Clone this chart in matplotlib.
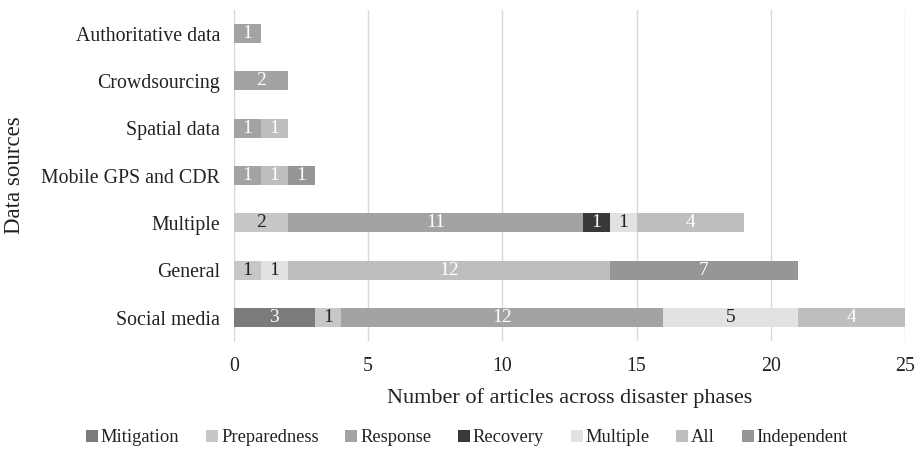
import matplotlib.pyplot as plt
import numpy as np

plt.rcParams['font.family'] = ['Liberation Serif', 'DejaVu Serif']

sources = ['Social media', 'General', 'Multiple', 'Mobile GPS and CDR',
           'Spatial data', 'Crowdsourcing', 'Authoritative data']
phases = ['Mitigation', 'Preparedness', 'Response', 'Recovery',
          'Multiple', 'All', 'Independent']

# articles per phase, one list per phase, ordered like `sources`
mitigation = [3, 0, 0, 0, 0, 0, 0]
preparedness = [1, 1, 2, 0, 0, 0, 0]
response = [12, 0, 11, 1, 1, 2, 1]
recovery = [0, 0, 1, 0, 0, 0, 0]
multiple = [5, 1, 1, 0, 0, 0, 0]
all_phases = [4, 12, 4, 1, 1, 0, 0]
independent = [0, 7, 0, 1, 0, 0, 0]

series = [mitigation, preparedness, response, recovery,
          multiple, all_phases, independent]
colors = ['#7b7b7b', '#c7c7c7', '#a3a3a3', '#383838',
          '#e2e2e2', '#bebebe', '#969696']
text_colors = ['white', '#222222', 'white', 'white',
               '#222222', 'white', 'white']

fig, ax = plt.subplots(figsize=(9.23, 4.49), dpi=100)
fig.subplots_adjust(left=0.2535, right=0.9805, top=0.978, bottom=0.24)

y = np.arange(len(sources))
left = np.zeros(len(sources))
for vals, name, col, tcol in zip(series, phases, colors, text_colors):
    vals = np.array(vals, dtype=float)
    bars = ax.barh(y, vals, left=left, height=0.4, color=col, label=name,
                   edgecolor='none', zorder=3)
    for b, v in zip(bars, vals):
        if v > 0:
            ax.text(b.get_x() + b.get_width() / 2, b.get_y() + b.get_height() / 2,
                    '%d' % v, ha='center', va='center', color=tcol,
                    fontsize=14, zorder=4)
    left += vals

ax.set_xlim(0, 25)
ax.set_ylim(-0.5, len(sources) - 0.5)
ax.set_xticks(range(0, 26, 5))
ax.set_yticks(y)
ax.set_yticklabels(sources)
ax.tick_params(axis='both', length=0, labelsize=14.3, colors='#222222')
ax.tick_params(axis='x', pad=11)
ax.tick_params(axis='y', pad=10)
ax.grid(axis='x', color='#d9d9d9', linewidth=1, zorder=0)
for s in ['top', 'right', 'bottom']:
    ax.spines[s].set_visible(False)
ax.spines['left'].set_color('#d9d9d9')
ax.spines['left'].set_zorder(2)

ax.set_xlabel('Number of articles across disaster phases', fontsize=16,
              color='#222222', labelpad=9)
ax.set_ylabel('Data sources', fontsize=16.5, color='#222222', labelpad=12)

fig.legend(*ax.get_legend_handles_labels(), loc='center',
           bbox_to_anchor=(0.506, 0.025), ncol=7, frameon=False,
           fontsize=13.3, handlelength=0.65, handleheight=0.65,
           handletextpad=0.15, columnspacing=1.45, labelcolor='#222222',
           borderaxespad=0, borderpad=0)

fig.savefig('out.png', dpi=100)
